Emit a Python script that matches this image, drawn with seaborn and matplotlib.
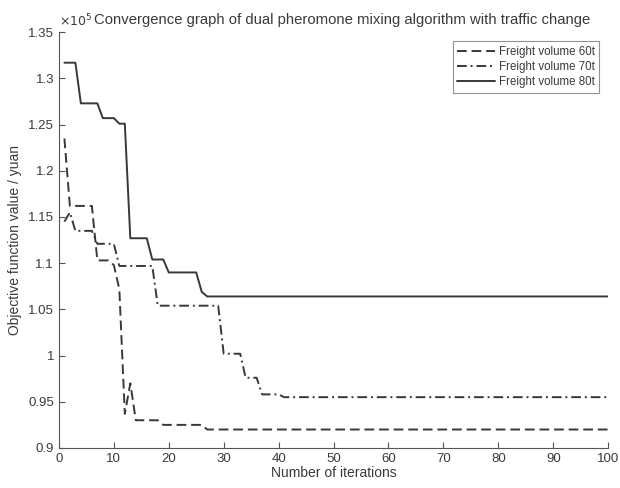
import pandas as pd
import matplotlib
matplotlib.use("Agg")
import matplotlib.pyplot as plt
import seaborn as sns

# iteration / objective value (x10^5 yuan) vertices for each freight volume
iter_60 = [1, 2, 6, 7, 9, 10, 11, 12, 13, 14, 18, 19, 26, 27, 100]
val_60 = [1.235, 1.162, 1.162, 1.103, 1.103, 1.098, 1.072, 0.937, 0.970,
          0.930, 0.930, 0.925, 0.925, 0.920, 0.920]

iter_70 = [1, 2, 3, 6, 7, 10, 11, 17, 18, 29, 30, 33, 34, 36, 37, 40, 41, 100]
val_70 = [1.145, 1.155, 1.135, 1.135, 1.121, 1.121, 1.097, 1.097, 1.054,
          1.054, 1.002, 1.002, 0.976, 0.976, 0.958, 0.958, 0.955, 0.955]

iter_80 = [1, 3, 4, 7, 8, 10, 11, 12, 13, 16, 17, 19, 20, 25, 26, 27, 100]
val_80 = [1.317, 1.317, 1.273, 1.273, 1.257, 1.257, 1.251, 1.251, 1.127,
          1.127, 1.104, 1.104, 1.090, 1.090, 1.069, 1.064, 1.064]

labels = ["Freight volume 60t", "Freight volume 70t", "Freight volume 80t"]

frames = []
for lab, xs, ys in zip(labels, [iter_60, iter_70, iter_80], [val_60, val_70, val_80]):
    frames.append(pd.DataFrame({"iter": xs, "value": ys, "series": lab}))
df = pd.concat(frames, ignore_index=True)

sns.set_style("white")
plt.rcParams["font.family"] = ["Liberation Sans", "DejaVu Sans"]
txt = "#3a3a3a"

fig = plt.figure(figsize=(6.2, 4.88), dpi=100)
ax = fig.add_axes([0.095, 0.082, 0.886, 0.852])

sns.lineplot(data=df, x="iter", y="value", hue="series", style="series",
             palette=["#383838"] * 3,
             dashes={labels[0]: (5, 2.5), labels[1]: (5, 2, 1, 2), labels[2]: ""},
             estimator=None, sort=False, linewidth=1.4, ax=ax)

ax.set_xlim(0, 100)
ax.set_ylim(0.9, 1.35)
ax.set_xticks(range(0, 101, 10))
yt = [0.9, 0.95, 1.0, 1.05, 1.1, 1.15, 1.2, 1.25, 1.3, 1.35]
ax.set_yticks(yt)
ax.set_yticklabels([f"{v:g}" for v in yt])
ax.tick_params(direction="in", length=4, width=0.8, colors="#555555",
               labelcolor=txt, labelsize=9.5, bottom=True, left=True)
for s in ["top", "right"]:
    ax.spines[s].set_visible(False)
for s in ["left", "bottom"]:
    ax.spines[s].set_color("#555555")
    ax.spines[s].set_linewidth(0.8)

ax.set_xlabel("Number of iterations", fontsize=10, color=txt, labelpad=1)
ax.set_ylabel("Objective function value / yuan", fontsize=10, color=txt, labelpad=4)
ax.set_title("Convergence graph of dual pheromone mixing algorithm with traffic change",
             fontsize=10.7, color=txt, pad=6, x=0.515)
ax.text(0.0, 1.008, r"$\times10^5$", transform=ax.transAxes, fontsize=9,
        color=txt, ha="left", va="bottom")

leg = ax.legend(loc="upper right", bbox_to_anchor=(0.984, 0.978), borderaxespad=0,
                fontsize=8.3, frameon=True, fancybox=False, handlelength=3.3,
                handletextpad=0.3, borderpad=0.4, labelspacing=0.28)
leg.get_frame().set_edgecolor("#777777")
leg.get_frame().set_linewidth(0.8)
for t in leg.get_texts():
    t.set_color(txt)

fig.savefig("out.png", dpi=100)
